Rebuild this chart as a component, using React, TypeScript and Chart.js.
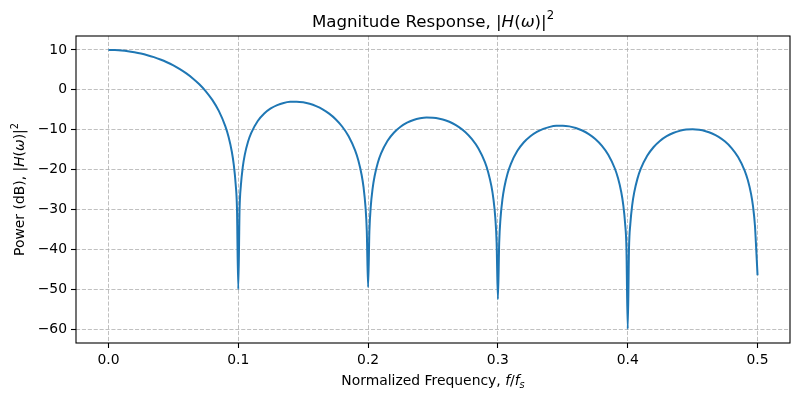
import React, { useEffect, useRef } from "react";
import { Chart, registerables } from "chart.js";

Chart.register(...registerables);

// Normalized frequency samples (f/fs)
const freqs: number[] = [
  0, 0.005, 0.01, 0.015, 0.02, 0.025, 0.03, 0.035, 0.04, 0.045, 0.05, 0.055, 0.06, 0.065, 0.07, 0.075, 0.08, 0.085, 0.09, 0.0925, 0.095, 0.0965, 0.098, 0.099,
  0.1, 0.101, 0.102, 0.1035, 0.105, 0.1075, 0.11, 0.115, 0.12, 0.125, 0.13, 0.135, 0.14, 0.145, 0.15, 0.155, 0.16, 0.165, 0.17, 0.175, 0.18, 0.185, 0.19, 0.1925, 0.195, 0.1965, 0.198, 0.199,
  0.2, 0.201, 0.202, 0.2035, 0.205, 0.2075, 0.21, 0.215, 0.22, 0.225, 0.23, 0.235, 0.24, 0.245, 0.25, 0.255, 0.26, 0.265, 0.27, 0.275, 0.28, 0.285, 0.29, 0.2925, 0.295, 0.2965, 0.298, 0.299,
  0.3, 0.301, 0.302, 0.3035, 0.305, 0.3075, 0.31, 0.315, 0.32, 0.325, 0.33, 0.335, 0.34, 0.345, 0.35, 0.355, 0.36, 0.365, 0.37, 0.375, 0.38, 0.385, 0.39, 0.3925, 0.395, 0.3965, 0.398, 0.399,
  0.4, 0.401, 0.402, 0.4035, 0.405, 0.4075, 0.41, 0.415, 0.42, 0.425, 0.43, 0.435, 0.44, 0.445, 0.45, 0.455, 0.46, 0.465, 0.47, 0.475, 0.48, 0.485, 0.49, 0.4925, 0.495, 0.4965, 0.498, 0.499,
  0.5,
];

// Power in dB
const powerDb: number[] = [
  10.0, 9.96, 9.86, 9.68, 9.42, 9.1, 8.69, 8.19, 7.6, 6.91, 6.11, 5.19, 4.11, 2.86, 1.39, -0.37, -2.53, -5.29, -9.11, -11.78, -15.48, -18.69, -23.67, -29.78,
  -50.0, -29.94, -24.01, -19.28, -16.32, -13.04, -10.8, -7.83, -5.94, -4.67, -3.82, -3.29, -3.02, -2.98, -3.14, -3.51, -4.1, -4.9, -5.98, -7.37, -9.2, -11.65, -15.2, -17.74, -21.3, -24.43, -29.35, -35.41,
  -49.5, -35.48, -29.5, -24.7, -21.68, -18.3, -15.95, -12.78, -10.71, -9.26, -8.25, -7.56, -7.15, -6.96, -6.99, -7.23, -7.69, -8.38, -9.34, -10.63, -12.36, -14.71, -18.15, -20.65, -24.17, -27.28, -32.16, -38.2,
  -52.5, -38.24, -32.24, -27.42, -24.37, -20.94, -18.55, -15.3, -13.15, -11.63, -10.54, -9.78, -9.29, -9.03, -9.0, -9.17, -9.57, -10.2, -11.09, -12.32, -13.99, -16.28, -19.67, -22.13, -25.63, -28.72, -33.59, -39.62,
  -60.0, -39.63, -33.62, -28.79, -25.72, -22.27, -19.85, -16.55, -14.34, -12.77, -11.63, -10.82, -10.29, -9.98, -9.89, -10.02, -10.37, -10.95, -11.8, -12.98, -14.6, -16.85, -20.2, -22.64, -26.11, -29.19, -34.04, -40.07,
  -46.5,
];

const xTicks: number[] = [0, 0.1, 0.2, 0.3, 0.4, 0.5];
const yTicks: number[] = [10, 0, -10, -20, -30, -40, -50, -60];

type Seg = { t: string; it?: boolean; sup?: boolean; sub?: boolean };

const titleSegs: Seg[] = [
  { t: "Magnitude Response, " },
  { t: "|" },
  { t: "H", it: true },
  { t: "(" },
  { t: "ω", it: true },
  { t: ")|" },
  { t: "2", sup: true },
];
const xLabelSegs: Seg[] = [
  { t: "Normalized Frequency, " },
  { t: "f", it: true },
  { t: "/" },
  { t: "f", it: true },
  { t: "s", it: true, sub: true },
];
const yLabelSegs: Seg[] = [
  { t: "Power (dB), |" },
  { t: "H", it: true },
  { t: "(" },
  { t: "ω", it: true },
  { t: ")|" },
  { t: "2", sup: true },
];

const FONT = '"DejaVu Sans"';

function drawRich(ctx: CanvasRenderingContext2D, segs: Seg[], size: number, cx: number, baseY: number) {
  const fontFor = (s: Seg) => {
    const sz = s.sup || s.sub ? size * 0.7 : size;
    return `${s.it ? "italic " : ""}${sz}px ${FONT}`;
  };
  const widths = segs.map((s) => {
    ctx.font = fontFor(s);
    return ctx.measureText(s.t).width;
  });
  const total = widths.reduce((a, b) => a + b, 0);
  let x = cx - total / 2;
  ctx.textAlign = "left";
  ctx.textBaseline = "alphabetic";
  ctx.fillStyle = "#000";
  segs.forEach((s, i) => {
    ctx.font = fontFor(s);
    let y = baseY;
    if (s.sup) y -= size * 0.45;
    if (s.sub) y += size * 0.2;
    ctx.fillText(s.t, x, y);
    x += widths[i];
  });
}

const decorPlugin = {
  id: "decor",
  afterDraw(chart: any) {
    const { ctx, chartArea } = chart;
    const { left, right, top, bottom } = chartArea;
    ctx.save();
    ctx.strokeStyle = "#000";
    ctx.lineWidth = 1.1;
    ctx.strokeRect(left, top, right - left, bottom - top);
    const cx = (left + right) / 2;
    drawRich(ctx, titleSegs, 16.67, cx, 27);
    drawRich(ctx, xLabelSegs, 13.9, cx, 385);
    ctx.translate(24, (top + bottom) / 2);
    ctx.rotate(-Math.PI / 2);
    drawRich(ctx, yLabelSegs, 13.9, 0, 0);
    ctx.restore();
  },
};

export default function App() {
  const ref = useRef<HTMLCanvasElement | null>(null);

  useEffect(() => {
    document.body.style.margin = "0";
    const canvas = ref.current;
    if (!canvas) return;
    const points = freqs.map((f, i) => ({ x: f, y: powerDb[i] }));
    const tickFont = { family: FONT, size: 13.9 };
    const chart = new Chart(canvas, {
      type: "line",
      data: {
        datasets: [
          {
            data: points,
            borderColor: "#1f77b4",
            borderWidth: 2,
            pointRadius: 0,
            cubicInterpolationMode: "monotone",
            fill: false,
          },
        ],
      },
      plugins: [decorPlugin],
      options: {
        animation: false,
        responsive: false,
        devicePixelRatio: 1,
        layout: { padding: { top: 36, right: 10, left: 0, bottom: 0 } },
        plugins: { legend: { display: false }, tooltip: { enabled: false }, title: { display: false } },
        scales: {
          x: {
            type: "linear",
            min: -0.025,
            max: 0.525,
            afterBuildTicks: (axis: any) => {
              axis.ticks = xTicks.map((v) => ({ value: v }));
            },
            afterFit: (axis: any) => {
              axis.height = 57;
            },
            ticks: {
              font: tickFont,
              color: "#000",
              padding: 4,
              maxRotation: 0,
              autoSkip: false,
              callback: (v: any) => Number(v).toFixed(1),
            },
            grid: {
              color: "#b0b0b0",
              lineWidth: 0.8,
              tickColor: "#000",
              tickWidth: 1.1,
              tickLength: 5,
            },
            border: { display: false, dash: [4.1, 1.8] },
          },
          y: {
            type: "linear",
            min: -63.5,
            max: 13.5,
            afterBuildTicks: (axis: any) => {
              axis.ticks = yTicks.map((v) => ({ value: v }));
            },
            afterFit: (axis: any) => {
              axis.width = 76;
            },
            ticks: {
              font: tickFont,
              color: "#000",
              padding: 4,
              autoSkip: false,
              callback: (v: any) => (Number(v) < 0 ? "\u2212" + Math.abs(Number(v)) : String(v)),
            },
            grid: {
              color: "#b0b0b0",
              lineWidth: 0.8,
              tickColor: "#000",
              tickWidth: 1.1,
              tickLength: 5,
            },
            border: { display: false, dash: [4.1, 1.8] },
          },
        },
      },
    } as any);
    return () => chart.destroy();
  }, []);

  return (
    <div style={{ width: 800, height: 400 }}>
      <canvas ref={ref} width={800} height={400} style={{ display: "block" }} />
    </div>
  );
}
